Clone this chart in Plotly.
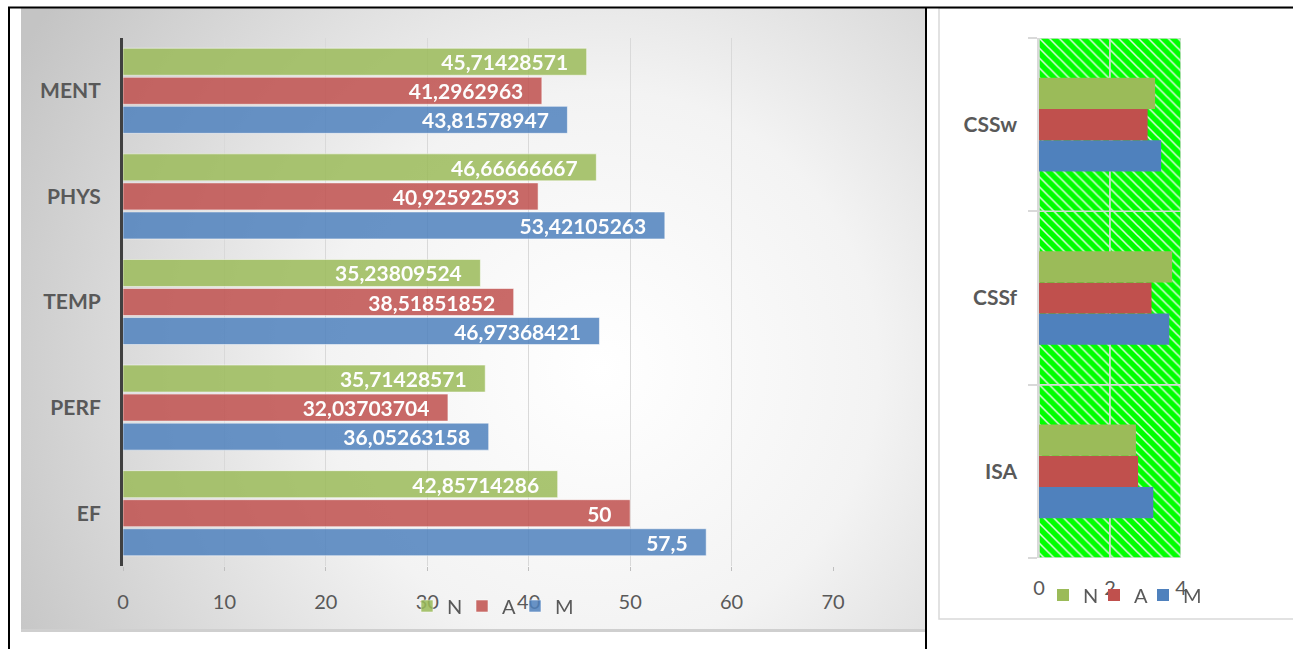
import plotly.graph_objects as go
import urllib.parse

W, H = 1293, 649


def px(x):
    return x / W


def py(y):
    return 1 - y / H


# ---------------- data ----------------
left_categories = ["EF", "PERF", "TEMP", "PHYS", "MENT"]
left_N = [42.85714286, 35.71428571, 35.23809524, 46.66666667, 45.71428571]
left_A = [50, 32.03703704, 38.51851852, 40.92592593, 41.2962963]
left_M = [57.5, 36.05263158, 46.97368421, 53.42105263, 43.81578947]

right_categories = ["ISA", "CSSf", "CSSw"]
right_N = [2.73, 3.75, 3.27]
right_A = [2.79, 3.17, 3.06]
right_M = [3.22, 3.67, 3.44]

series_names = ["M", "A", "N"]
colors = {"N": "#9BBB59", "A": "#C0504D", "M": "#4F81BD"}

LEFT_XMAX, LEFT_STEP = 70, 10
RIGHT_XMAX, RIGHT_STEP = 4, 2

GRAY = "#595959"
FONT = "Lato"
LABEL_PAD = "\u2002\u00a0"  # small gap between label and bar end

# one legend box per entry so that each entry sits where the original puts it
# (pixel x of the symbol centre, pixel y of the row)
left_legend_pos = {"N": (427, 606), "A": (482, 606), "M": (535, 606)}
right_legend_pos = {"N": (1063, 595), "A": (1114, 595), "M": (1163, 595)}
left_legend_id = {"N": "legend", "A": "legend3", "M": "legend4"}
right_legend_id = {"N": "legend2", "A": "legend5", "M": "legend6"}
LEGEND_SYMBOL_OFFSET = 20


def fmt(v):
    s = f"{v:.8f}".rstrip("0").rstrip(".")
    return s.replace(".", ",")


fig = go.Figure()

# ---------------- left chart ----------------
left_vals = {"N": left_N, "A": left_A, "M": left_M}
for name in series_names:
    vals = left_vals[name]
    fig.add_trace(go.Bar(
        y=left_categories, x=vals, orientation="h", name=name,
        xaxis="x", yaxis="y",
        marker=dict(color=colors[name], line=dict(color="rgba(255,255,255,0.55)", width=1)),
        opacity=0.85,
        text=[fmt(v) + LABEL_PAD for v in vals],
        textposition="inside", insidetextanchor="end", constraintext="none",
        textangle=0,
        textfont=dict(family=FONT, size=21, color="white", weight="bold"),
        legend=left_legend_id[name], hoverinfo="skip",
    ))

# ---------------- right chart: hatched background cells ----------------
for start in range(0, RIGHT_XMAX, RIGHT_STEP):
    fig.add_trace(go.Bar(
        y=right_categories, x=[RIGHT_STEP] * len(right_categories),
        base=[start] * len(right_categories),
        width=1, offset=-0.5, orientation="h",
        xaxis="x2", yaxis="y2", showlegend=False, hoverinfo="skip",
        marker=dict(
            color="#00FF00",
            pattern=dict(shape="\\", fillmode="replace", bgcolor="#00FF00",
                         fgcolor="#DDF7DD", size=7, solidity=0.22),
            line=dict(color="#D9D9D9", width=1.5),
        ),
    ))

right_vals = {"N": right_N, "A": right_A, "M": right_M}
right_offsets = {"M": -0.27, "A": -0.09, "N": 0.09}
for name in series_names:
    fig.add_trace(go.Bar(
        y=right_categories, x=right_vals[name], orientation="h", name=name,
        xaxis="x2", yaxis="y2",
        width=0.18, offset=right_offsets[name],
        marker=dict(color=colors[name], line=dict(width=0)),
        legend=right_legend_id[name], hoverinfo="skip",
    ))

# ---------------- background gradient (left chart area) ----------------
svg = (
    '<svg xmlns="http://www.w3.org/2000/svg" width="904" height="624" '
    'viewBox="0 0 904 624" preserveAspectRatio="none">'
    '<defs><radialGradient id="g" gradientUnits="userSpaceOnUse" cx="580" cy="360" r="660">'
    '<stop offset="0" stop-color="#ffffff"/>'
    '<stop offset="0.42" stop-color="#f3f3f3"/>'
    '<stop offset="1" stop-color="#c4c4c4"/>'
    '</radialGradient></defs>'
    '<rect width="904" height="624" fill="url(#g)"/>'
    '<rect x="0" y="621" width="904" height="3" fill="#cfcfcf"/>'
    '</svg>'
)
svg_uri = "data:image/svg+xml;charset=utf-8," + urllib.parse.quote(svg)

images = [dict(
    source=svg_uri, xref="paper", yref="paper",
    x=px(21), y=py(8), sizex=px(925) - px(21), sizey=py(8) - py(632),
    xanchor="left", yanchor="top", sizing="stretch", layer="below",
)]

shapes = [
    # right chart panel
    dict(type="rect", xref="paper", yref="paper", x0=px(939), x1=px(1300),
         y0=py(619), y1=py(8), line=dict(color="#D9D9D9", width=1.5),
         fillcolor="white", layer="below"),
    # table lines
    dict(type="line", xref="paper", yref="paper", x0=px(8), x1=px(1293),
         y0=py(7.5), y1=py(7.5), line=dict(color="black", width=2), layer="above"),
    dict(type="line", xref="paper", yref="paper", x0=px(9), x1=px(9),
         y0=py(7), y1=py(660), line=dict(color="black", width=2), layer="above"),
    dict(type="line", xref="paper", yref="paper", x0=px(926), x1=px(926),
         y0=py(7), y1=py(660), line=dict(color="black", width=2), layer="above"),
]

tickfont = dict(family=FONT, size=20, color=GRAY)
catfont = dict(family=FONT, size=21, color=GRAY, weight="bold")


def legend_box(pos):
    x, y = pos
    return dict(
        orientation="h", x=px(x - LEGEND_SYMBOL_OFFSET), y=py(y),
        xanchor="left", yanchor="middle",
        font=dict(family=FONT, size=20, color=GRAY), bgcolor="rgba(0,0,0,0)",
        borderwidth=0,
    )


legends = {}
for name in ["N", "A", "M"]:
    legends[left_legend_id[name]] = legend_box(left_legend_pos[name])
    legends[right_legend_id[name]] = legend_box(right_legend_pos[name])

fig.update_layout(
    width=W, height=H, autosize=False,
    margin=dict(l=0, r=0, t=0, b=0, pad=0, autoexpand=False),
    paper_bgcolor="white", plot_bgcolor="rgba(0,0,0,0)",
    barmode="group", bargap=0.175, bargroupgap=0.07,
    font=dict(family=FONT, color=GRAY),
    images=images, shapes=shapes,
    xaxis=dict(
        domain=[px(123), px(833)], range=[0, LEFT_XMAX], dtick=LEFT_STEP, tick0=0,
        showgrid=True, gridcolor="#D9D9D9", gridwidth=1, zeroline=False,
        ticks="outside", ticklen=4, tickcolor="#BFBFBF", tickfont=tickfont,
        ticklabelstandoff=14, showline=False, anchor="y", fixedrange=True,
        automargin=False,
    ),
    yaxis=dict(
        domain=[py(566), py(38)], anchor="x", showline=True, linecolor="#404040",
        linewidth=3, ticks="", tickfont=catfont, ticklabelstandoff=15,
        showgrid=False, fixedrange=True, automargin=False,
    ),
    xaxis2=dict(
        domain=[px(1039), px(1181)], range=[0, RIGHT_XMAX], dtick=RIGHT_STEP, tick0=0,
        showgrid=False, zeroline=False, ticks="", tickfont=tickfont,
        ticklabelstandoff=16, showline=False, anchor="y2", fixedrange=True,
        automargin=False,
    ),
    yaxis2=dict(
        domain=[py(558), py(38)], anchor="x2", showline=True, linecolor="#D9D9D9",
        linewidth=1.5, ticks="outside", tickson="boundaries", ticklen=9,
        tickcolor="#D9D9D9", tickwidth=1.5, tickfont=catfont, ticklabelstandoff=16,
        showgrid=False, fixedrange=True, automargin=False,
    ),
    **legends,
)

post = (
    "document.documentElement.style.margin='0';"
    "document.body.style.margin='0';document.body.style.padding='0';"
    "document.documentElement.style.overflow='hidden';document.body.style.overflow='hidden';"
)

fig.write_html("out.html", config={"responsive": False, "displayModeBar": False},
               default_width="%dpx" % W, default_height="%dpx" % H,
               post_script=post)
